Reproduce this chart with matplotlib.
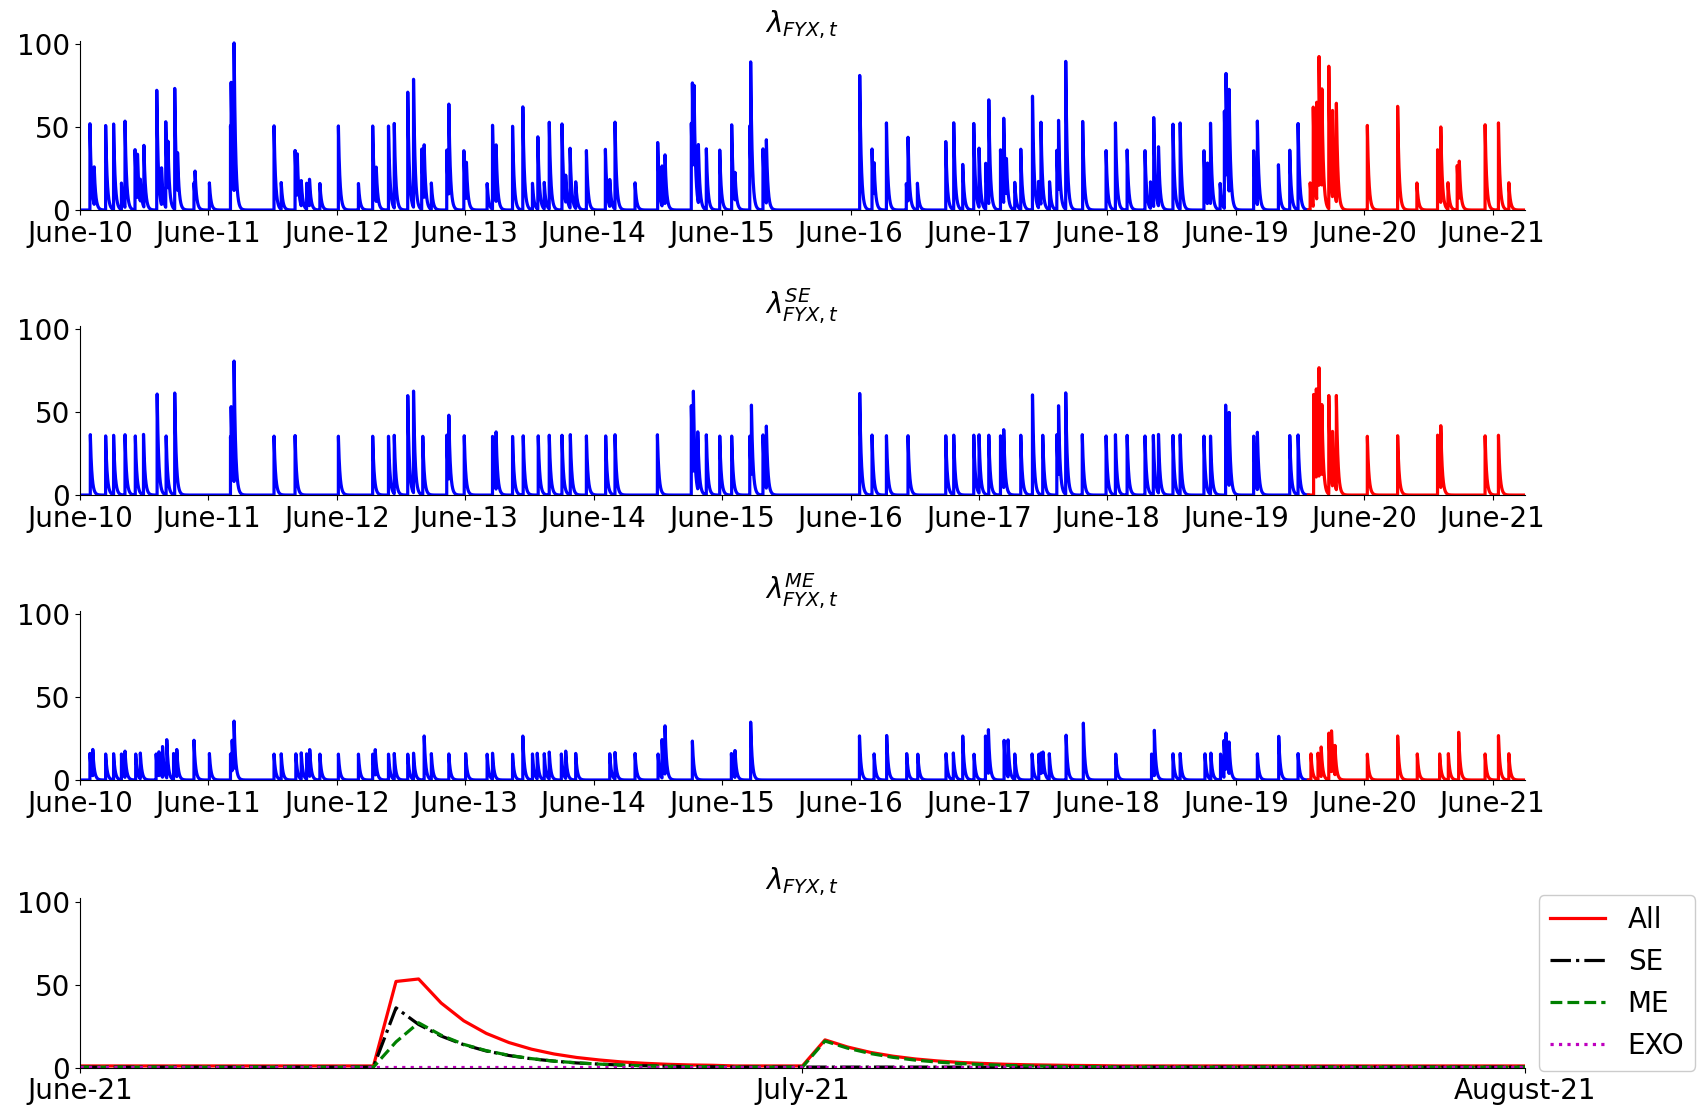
import numpy as np
import matplotlib
matplotlib.use("Agg")
import matplotlib.pyplot as plt

# ---------------- data ----------------
# Panels 1-3: event times (days after June-10) and peak intensity of each spike
all_times = [0.078,0.111,0.200,0.262,0.323,0.351,0.429,0.448,0.470,0.498,0.598,0.635,0.668,0.685,0.738,0.760,
             0.888,0.896,1.008,1.172,1.177,1.200,1.511,1.567,1.675,1.692,1.723,1.765,1.787,1.868,2.012,2.168,
             2.279,2.307,2.402,2.447,2.552,2.597,2.661,2.680,2.736,2.856,2.872,2.989,3.009,3.170,3.212,3.240,
             3.368,3.448,3.523,3.565,3.615,3.654,3.753,3.782,3.816,3.860,3.943,4.091,4.125,4.166,4.322,4.498,
             4.532,4.555,4.760,4.768,4.781,4.815,4.877,4.981,5.074,5.100,5.215,5.222,5.318,5.344,6.071,6.167,
             6.183,6.279,6.434,6.447,6.520,6.741,6.803,6.873,6.959,7.000,7.052,7.076,7.167,7.192,7.213,7.278,
             7.325,7.416,7.463,7.482,7.549,7.606,7.619,7.675,7.807,7.989,8.062,8.153,8.292,8.335,8.360,8.397,
             8.510,8.566,8.751,8.778,8.802,8.877,8.910,8.923,8.947,9.138,9.167,9.331,9.419,9.484,9.578,9.602,
             9.629,9.647,9.669,9.723,9.752,9.782,10.023,10.259,10.409,10.570,10.595,10.651,10.723,10.739,
             10.940,11.044,11.125]
all_peaks = [52,26,52,52.4,16.6,53.6,36.4,34,19,39,73,26,54.4,42,73.4,35,
             16.4,24,16.4,52,78,101,52,16.8,36.4,34,18,16.4,19,16.4,52,16.4,
             52,26,52,53.6,73,81,37,40,16.4,36.4,65,36.4,29,16.4,52.6,39.6,
             52,63.4,16.4,45,16.8,53.4,52.4,21,37.6,17,36.6,36.6,18.6,53,16.4,41.6,
             26.6,34,52.4,78.4,75.4,40,37,37,52.6,23,52,89.6,37,43.4,81.6,37,
             29,53.4,16,44.6,16.6,42,53,28,52.6,38.4,28.4,67,37,57,32,17,
             37,70,17.4,54,17,36,54.6,89.6,53.4,36.6,52.6,36.6,36.6,17,56.4,39,
             52.4,52.6,36.6,29,53.6,16.4,61,82.6,73,36.6,54.4,27.4,36.6,52.4,16.6,63,
             66,94,75,89,61,65.4,52.4,63.6,16.6,36.6,51,16.6,27,30,
             52.4,53,16.6]

se_times = [0.081,0.200,0.262,0.351,0.431,0.495,0.601,0.671,0.738,1.172,1.177,1.200,1.511,1.675,2.012,2.279,
            2.402,2.447,2.552,2.597,2.669,2.856,2.872,2.992,3.212,3.240,3.368,3.451,3.568,3.654,3.753,3.818,
            3.943,4.093,4.166,4.496,4.760,4.776,4.810,4.877,4.981,5.074,5.215,5.228,5.318,5.344,6.071,6.167,
            6.279,6.447,6.741,6.803,6.959,7.000,7.076,7.167,7.192,7.325,7.416,7.496,7.606,7.619,7.675,7.804,
            7.989,8.062,8.153,8.292,8.357,8.397,8.510,8.566,8.751,8.802,8.920,8.947,9.138,9.167,9.419,9.484,
            9.605,9.626,9.647,9.669,9.723,9.752,9.782,10.023,10.259,10.570,10.595,10.940,11.044]
se_peaks = [36.4,36.4,36.4,36.4,36.4,36.6,61.6,36.4,61.6,36,54,81,36.4,36.4,36.4,36.4,
            36.4,37,61.6,64.4,36.4,36.4,49,36.4,36.4,38.4,36.4,36.4,36.4,36.4,36.4,36.4,
            36.4,36.4,36.4,36.4,54,63.4,39,36.4,36.4,36.4,36.4,54.4,36.4,42.6,61.6,36.4,
            36.4,36.4,36.4,36.4,36.4,37.4,36.4,36.4,40.6,36.4,61.6,36.4,36.4,54.4,61.6,36.4,
            36.4,36.4,36.4,36.4,36.4,37.4,36.4,36.4,36.4,36.4,54.4,50,36.4,38.4,36.4,36.4,
            61.6,65,78,56,61.6,39,61,36.4,36.4,36.4,42.6,36.4,36.4]

me_times = [0.078,0.100,0.200,0.262,0.323,0.351,0.434,0.470,0.593,0.615,0.643,0.676,0.729,0.754,0.888,1.008,
            1.172,1.185,1.200,1.511,1.567,1.681,1.723,1.765,1.789,1.868,2.012,2.168,2.279,2.299,2.402,2.447,
            2.552,2.597,2.680,2.736,2.872,3.003,3.170,3.212,3.368,3.448,3.523,3.560,3.615,3.654,3.748,3.782,
            3.860,4.125,4.166,4.322,4.501,4.532,4.555,4.768,5.072,5.100,5.222,6.069,6.183,6.281,6.437,6.523,
            6.743,6.800,6.873,6.961,7.050,7.073,7.195,7.226,7.278,7.413,7.465,7.482,7.498,7.547,7.678,7.812,
            8.064,8.343,8.365,8.510,8.566,8.759,8.805,8.880,8.907,8.923,8.947,9.167,9.333,9.484,9.584,9.639,
            9.664,9.723,9.744,9.771,10.023,10.259,10.412,10.586,10.654,10.734,10.940,11.044,11.125]
me_peaks = [16,18.6,16,16,16,17.4,16,16.6,16,17,20.4,24.6,16,18.6,24,16,
            16,24,35.6,16,16,16,16.6,16,18.6,16,16,16,16,18.6,16,16.4,
            16,16.6,27,16,16,16,16,16.6,16,27,16,16.6,16,17,16,17.4,
            16,16,16.6,16,16,24.4,33.4,24,16,18,35,27,16,27,16,16,
            16,16.4,27,16,27,30.6,24.6,24.4,16,16,16,16.6,17.4,16,27,35,
            16,16,30,16,16,16,16.6,16,24.4,28.4,23,16,27,16,16,16.6,
            20,29,30.4,21.4,16,27,16,16,16,29.6,16,27,16]

split_time = 9.565          # blue (in-sample) -> red (out-of-sample)
day_labels = ["June-10","June-11","June-12","June-13","June-14","June-15","June-16",
              "June-17","June-18","June-19","June-20","June-21"]

# Panel 4: decomposition of the intensity, read point by point
se_series = [0.3]*14 + [36,26,19,13.8,10,7.3,5.3,3.9,2.8,2.1,1.5,1.1,0.8,0.6,0.5] + [0.3]*36
me_series = ([0.3]*14 + [15.5,27,19.5,14,10.2,7.4,5.4,3.9,2.9,2.1,1.5,1.1,0.8,0.6,0.5]
             + [0.3]*4 + [16,11.7,8.5,6.2,4.5,3.3,2.4,1.8,1.3,1.0,0.8,0.6,0.5] + [0.3]*19)
exo_series = [0.4]*65
bottom_labels = ["June-21", "July-21", "August-21"]
bottom_ticks = [0, 32, 64]

# ---------------- drawing ----------------
TAU = 0.012
tgrid = np.linspace(0, 11.25, 30000)

def intensity(times, peaks):
    lam = np.zeros_like(tgrid)
    for t0, h in zip(times, peaks):
        m = tgrid >= t0
        lam[m] = np.maximum(lam[m], h * np.exp(-(tgrid[m] - t0) / TAU))
    return lam

FS = 20
fig = plt.figure(figsize=(17.08, 11.10), dpi=100)
left, width, height = 0.0468, 0.846, 0.1525
bottoms = [0.8108, 0.554, 0.2973, 0.0382]
titles = [r"$\lambda_{FYX,t}$", r"$\lambda^{SE}_{FYX,t}$", r"$\lambda^{ME}_{FYX,t}$", r"$\lambda_{FYX,t}$"]

series = [(all_times, all_peaks), (se_times, se_peaks), (me_times, me_peaks)]
for k, (tt, pp) in enumerate(series):
    ax = fig.add_axes([left, bottoms[k], width, height])
    lam = intensity(tt, pp)
    blue = tgrid <= split_time
    red = tgrid >= split_time
    ax.plot(tgrid[blue], lam[blue], color="blue", lw=2.3)
    ax.plot(tgrid[red], lam[red], color="red", lw=2.3)
    ax.set_xlim(0, 11.25)
    ax.set_ylim(0, 102)
    ax.set_xticks(range(12))
    ax.set_xticklabels(day_labels)
    ax.set_yticks([0, 50, 100])
    ax.tick_params(labelsize=FS)
    ax.spines["top"].set_visible(False)
    ax.spines["right"].set_visible(False)
    ax.set_title(titles[k], fontsize=FS)

ax = fig.add_axes([left, bottoms[3], width, height])
x = np.arange(len(se_series))
se = np.array(se_series); me = np.array(me_series); exo = np.array(exo_series)
total = se + me + exo
ax.plot(x, total, color="red", lw=2.3, ls="-", label="All")
ax.plot(x, se, color="black", lw=2.3, ls="-.", label="SE")
ax.plot(x, me, color="green", lw=2.3, ls="--", label="ME")
ax.plot(x, exo, color="m", lw=2.3, ls=":", label="EXO")
ax.set_xlim(0, 64)
ax.set_ylim(0, 102)
ax.set_xticks(bottom_ticks)
ax.set_xticklabels(bottom_labels)
ax.set_yticks([0, 50, 100])
ax.tick_params(labelsize=FS)
ax.spines["top"].set_visible(False)
ax.spines["right"].set_visible(False)
ax.set_title(titles[3], fontsize=FS)
ax.legend(loc="center left", bbox_to_anchor=(1.0, 0.5), fontsize=FS, framealpha=1.0)

fig.savefig("out.png", dpi=100)
